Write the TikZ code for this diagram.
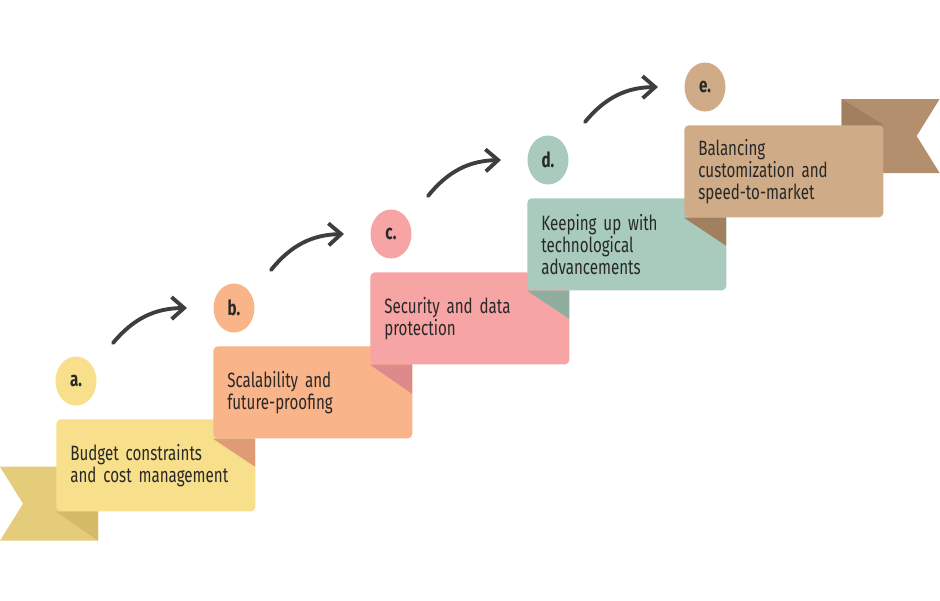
\documentclass[tikz,border=0pt]{standalone}
\usepackage{fontspec}
\setmainfont[FakeStretch=0.73, WordSpace=0.85]{Fira Sans}
\usetikzlibrary{arrows.meta, shapes.geometric, backgrounds}
\definecolor{inkGray}{RGB}{40,40,40}
\definecolor{arrowGray}{RGB}{62,62,62}
\definecolor{boxA}{RGB}{247,223,139}
\definecolor{tailA}{RGB}{229,204,122}
\definecolor{foldA}{RGB}{213,187,103}
\definecolor{boxB}{RGB}{249,180,137}
\definecolor{foldB}{RGB}{222,155,118}
\definecolor{boxC}{RGB}{247,164,164}
\definecolor{foldC}{RGB}{220,138,139}
\definecolor{boxD}{RGB}{168,203,189}
\definecolor{foldD}{RGB}{143,174,159}
\definecolor{boxE}{RGB}{207,171,136}
\definecolor{tailE}{RGB}{179,143,109}
\definecolor{foldE}{RGB}{160,128,95}

\begin{document}
\begin{tikzpicture}[
  x=0.02cm, y=-0.02cm,
  font=\fontsize{11.8}{12.5}\selectfont, text=inkGray,
  stepbox/.style={rounded corners=2.5pt, anchor=north west, minimum width=3.98cm, minimum height=1.84cm, text width=3.42cm, inner xsep=0.28cm, align=left},
  badge/.style={ellipse, minimum width=0.82cm, minimum height=0.98cm, inner sep=0pt, font=\fontsize{11.8}{12.5}\selectfont\bfseries},
  arr/.style={-{Straight Barb[length=2.5mm, width=4.4mm]}, line width=2.2pt, line cap=round, draw=arrowGray}
]
\useasboundingbox (0,0) rectangle (940,600);

% step a: budget
\node[stepbox, fill=boxA] (a) at (56,419) {Budget constraints\\and cost management};
\begin{scope}[on background layer]
\fill[tailA] ([shift={(-56,-45)}]a.south west) -- ([shift={(42,-45)}]a.south west) -- ([shift={(42,29)}]a.south west) -- ([shift={(-56,29)}]a.south west) -- ([shift={(-33,-8)}]a.south west) -- cycle;
\end{scope}
\fill[foldA] (a.south west) -- ([shift={(42,0)}]a.south west) -- ([shift={(42,29)}]a.south west) -- cycle;
\node[badge, fill=boxA] (la) at (76,381) {a.};

% step b: scalability
\node[stepbox, fill=boxB] (b) at (213,346) {Scalability and\\future-proofing};
\fill[foldB] (b.south west) -- ([shift={(42,0)}]b.south west) -- ([shift={(42,28)}]b.south west) -- cycle;
\node[badge, fill=boxB] (lb) at (234,308) {b.};

% step c: security
\node[stepbox, fill=boxC] (c) at (370,272) {Security and data\\protection};
\fill[foldC] (c.south west) -- ([shift={(42,0)}]c.south west) -- ([shift={(42,29)}]c.south west) -- cycle;
\node[badge, fill=boxC] (lc) at (391,234) {c.};

% step d: technology
\node[stepbox, fill=boxD] (d) at (527,198) {Keeping up with\\technological\\advancements};
\fill[foldD] (d.south west) -- ([shift={(42,0)}]d.south west) -- ([shift={(42,28)}]d.south west) -- cycle;
\node[badge, fill=boxD] (ld) at (548,160) {d.};

% step e: customization
\node[stepbox, fill=boxE] (e) at (684,125) {Balancing\\customization and\\speed-to-market};
\begin{scope}[on background layer]
\fill[tailE] ([shift={(-42,-26)}]e.north east) -- ([shift={(56,-26)}]e.north east) -- ([shift={(33,11)}]e.north east) -- ([shift={(56,48)}]e.north east) -- ([shift={(-42,48)}]e.north east) -- cycle;
\end{scope}
\fill[foldE] ([shift={(-42,-26)}]e.north east) -- (e.north east) -- ([shift={(-42,0)}]e.north east) -- cycle;
\fill[foldE] (e.south west) -- ([shift={(42,0)}]e.south west) -- ([shift={(42,28)}]e.south west) -- cycle;
\node[badge, fill=boxE] (le) at (705,87) {e.};

% arrows between badges
\draw[arr] ([shift={(37,-38)}]la.center) to[bend left=25] ([shift={(-47,0)}]lb.center);
\draw[arr] ([shift={(37,-38)}]lb.center) to[bend left=25] ([shift={(-47,0)}]lc.center);
\draw[arr] ([shift={(37,-38)}]lc.center) to[bend left=25] ([shift={(-47,0)}]ld.center);
\draw[arr] ([shift={(37,-38)}]ld.center) to[bend left=25] ([shift={(-47,0)}]le.center);

\end{tikzpicture}
\end{document}
